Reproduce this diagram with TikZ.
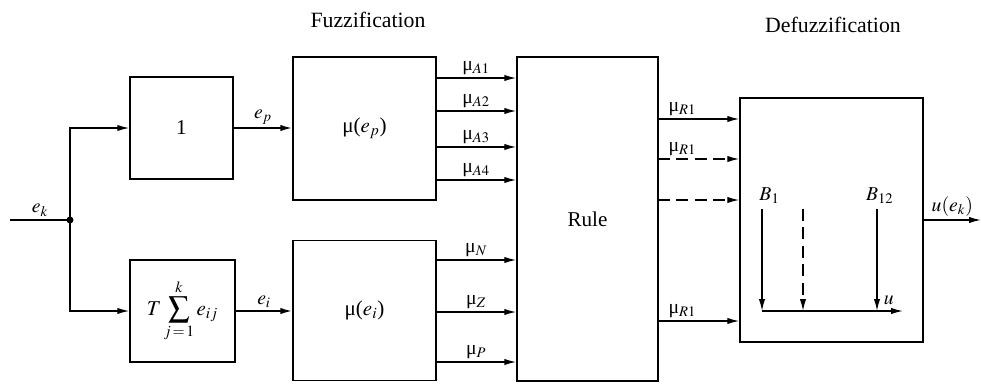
\documentclass[tikz,border=0pt]{standalone}
\usepackage{mathptmx}
\usepackage{fontspec}
\setmainfont{Liberation Serif}
\usetikzlibrary{arrows.meta}

\begin{document}
\begin{tikzpicture}[x=0.025cm, y=-0.025cm,
    fuzBlock/.style={draw, line width=1pt, inner sep=0pt},
    fuzArrow/.style={-{Latex[length=3mm, width=1.6mm]}, line width=1pt},
    fuzDash/.style={fuzArrow, dash pattern=on 3mm off 1.6mm},
    fuzLabel/.style={font=\fontsize{14}{16}\selectfont, inner sep=2pt},
    fuzTitleStyle/.style={font=\fontsize{15.5}{18}\selectfont},
    every node/.style={font=\fontsize{15}{18}\selectfont}]
    \useasboundingbox (0,0) rectangle (981,383);

    % Titles
    \node[fuzTitleStyle] (fuzTitle) at (368,20) {Fuzzification};
    \node[fuzTitleStyle] (defTitle) at (833,25) {Defuzzification};

    % Blocks
    \node[fuzBlock, minimum width=2.575cm, minimum height=2.55cm] (unitB) at (181.5,128) {1};
    \node[fuzBlock, minimum width=2.625cm, minimum height=2.55cm] (sumB) at (182.5,311) {$\displaystyle T\sum_{j\,=\,1}^{k} e_{ij}$};
    \node[fuzBlock, minimum width=3.575cm, minimum height=3.575cm] (memP) at (364.5,128.5) {μ($e_p$)};
    \node[fuzBlock, minimum width=3.575cm, minimum height=3.5cm] (memI) at (364.5,310.5) {μ($e_i$)};
    \node[fuzBlock, minimum width=3.525cm, minimum height=8.1cm] (rule) at (587.5,219) {Rule};
    \node[fuzBlock, minimum width=4.575cm, minimum height=6.1cm] (defz) at (831.5,220) {};

    % Input and branch
    \coordinate (ekIn) at (10,220);
    \coordinate (ekJn) at (70,220);
    \fill (ekJn) circle (2.5pt);
    \draw[line width=1.2pt] (ekIn) -- node[above, fuzLabel] {$e_k$} (ekJn);
    \draw[fuzArrow] (ekJn) |- (unitB.west);
    \draw[fuzArrow] (ekJn) |- (sumB.west);
    \draw[fuzArrow, line width=1.2pt] (unitB.east) -- node[above, fuzLabel] {$e_p$} (unitB.east -| memP.west);
    \draw[fuzArrow, line width=1.2pt] (sumB.east) -- node[above, fuzLabel] {$e_i$} (sumB.east -| memI.west);

    % Membership outputs
    \foreach \yy/\sub [count=\i] in {78/A1, 111/A2, 147/A3, 180/A4} {
        \coordinate (muA\i) at (436,\yy);
        \draw[fuzArrow] (muA\i) -- node[above, fuzLabel] {μ$_{\sub}$} (muA\i -| rule.west);
    }
    \foreach \yy/\sub [count=\i] in {260/N, 312/Z, 362/P} {
        \coordinate (muE\i) at (436,\yy);
        \draw[fuzArrow] (muE\i) -- node[above, fuzLabel] {μ$_{\sub}$} (muE\i -| rule.west);
    }

    % Rule outputs
    \coordinate (muR1) at (658,119);
    \coordinate (muR2) at (658,159);
    \coordinate (muR3) at (658,200);
    \coordinate (muR4) at (658,321);
    \draw[fuzArrow] (muR1) -- node[pos=0.3, above, fuzLabel] {μ$_{R1}$} (muR1 -| defz.west);
    \draw[fuzDash] (muR2) -- node[pos=0.3, above, fuzLabel] {μ$_{R1}$} (muR2 -| defz.west);
    \draw[fuzDash] (muR3) -- (muR3 -| defz.west);
    \draw[fuzArrow] (muR4) -- node[pos=0.3, above, fuzLabel] {μ$_{R1}$} (muR4 -| defz.west);

    % Inside defuzzification
    \coordinate (bOne) at (762,209);
    \coordinate (bMid) at (803,209);
    \coordinate (bTwl) at (877,209);
    \coordinate (axL) at (762,311);
    \coordinate (axR) at (903,311);
    \node[fuzLabel, above right, xshift=-4pt, yshift=2pt] at (bOne) {$B_1$};
    \node[fuzLabel, above, xshift=2pt, yshift=2pt] at (bTwl) {$B_{12}$};
    \draw[fuzArrow] (bOne) -- (bOne |- axL);
    \draw[fuzDash] (bMid) -- (bMid |- axL);
    \draw[fuzArrow] (bTwl) -- (bTwl |- axL);
    \draw[fuzArrow] (axL) -- node[pos=0.9, above, fuzLabel, yshift=2pt] {$u$} (axR);

    % Output
    \coordinate (uOut) at (981,220);
    \draw[fuzArrow] (defz.east) -- node[above, fuzLabel] {$u(e_k)$} (uOut);
\end{tikzpicture}
\end{document}
